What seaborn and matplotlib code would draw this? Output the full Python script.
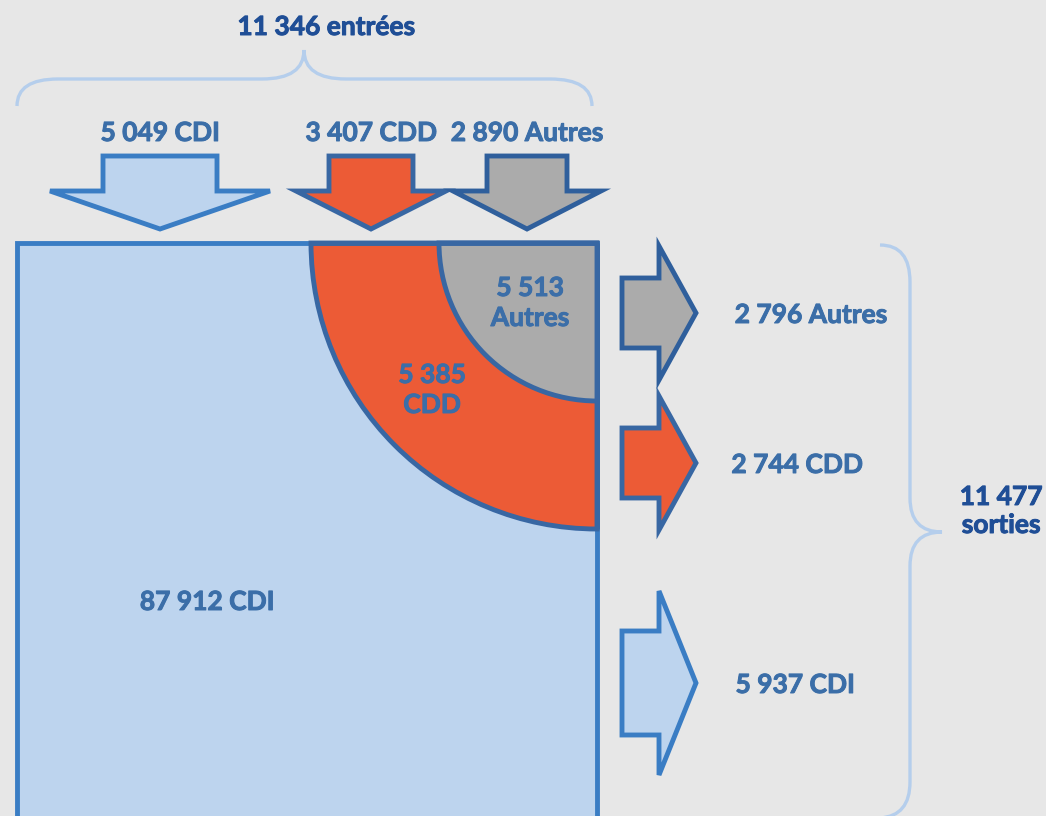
import seaborn as sns
import matplotlib.pyplot as plt
import matplotlib.patheffects as pe
from matplotlib.patches import Polygon, Rectangle, Wedge, PathPatch
from matplotlib.path import Path

# données
entrees_types = ["CDI", "CDD", "Autres"]
entrees_vals = [5049, 3407, 2890]
stock_types = ["CDI", "CDD", "Autres"]
stock_vals = [87912, 5385, 5513]
sorties_types = ["Autres", "CDD", "CDI"]
sorties_vals = [2796, 2744, 5937]

sns.set_theme(style="white")
plt.rcParams["font.family"] = ["Lato", "DejaVu Sans"]

BG = "#E7E7E7"
BLEU_CLAIR = "#BDD4EE"
ORANGE = "#EC5B36"
GRIS = "#ABABAB"
BORD_CDI = "#3A7DC4"
BORD = "#3867A3"
TXT = "#3B6EA8"
TXT_FONCE = "#1F4E96"
ACCOLADE = "#B5CEEC"
fills = {"CDI": BLEU_CLAIR, "CDD": ORANGE, "Autres": GRIS}
edges = {"CDI": BORD_CDI, "CDD": BORD, "Autres": "#2F5F9C"}
FS = 19


def fmt(v):
    return f"{v:,}".replace(",", " ")


fig = plt.figure(figsize=(10.46, 8.16), dpi=100)
fig.patch.set_facecolor(BG)
ax = fig.add_axes([0, 0, 1, 1])
ax.set_facecolor(BG)
ax.set_xlim(0, 1046)
ax.set_ylim(816, 0)
ax.axis("off")

lw = 3.5


def texte(x, y, s, color, **kw):
    ax.text(x, y, s, ha="center", va="center", fontsize=FS, fontweight="bold",
            color=color, path_effects=[pe.withStroke(linewidth=0.7, foreground=color)], **kw)


def fleche_bas(cx, sh, hh, top, neck, tip, t):
    pts = [(cx - sh, top), (cx + sh, top), (cx + sh, neck), (cx + hh, neck),
           (cx, tip), (cx - hh, neck), (cx - sh, neck)]
    ax.add_patch(Polygon(pts, closed=True, facecolor=fills[t], edgecolor=edges[t],
                         lw=lw, joinstyle="miter"))


def fleche_droite(left, neck, tip, cy, sh, hh, t):
    pts = [(left, cy - sh), (neck, cy - sh), (neck, cy - hh), (tip, cy),
           (neck, cy + hh), (neck, cy + sh), (left, cy + sh)]
    ax.add_patch(Polygon(pts, closed=True, facecolor=fills[t], edgecolor=edges[t],
                         lw=lw, joinstyle="miter"))


# entrées
top_arrows = {"CDI": (160, 57, 110), "CDD": (371, 42, 75), "Autres": (527, 40, 74)}
for t, v in zip(entrees_types, entrees_vals):
    cx, sh, hh = top_arrows[t]
    fleche_bas(cx, sh, hh, 156, 191, 229, t)
    texte(cx, 133, f"{fmt(v)} {t}", TXT)

texte(326, 27, f"{fmt(sum(entrees_vals))} entrées", TXT_FONCE)

# accolade du haut
C3, L, M = Path.CURVE3, Path.LINETO, Path.MOVETO
verts = [(17, 106), (17, 79), (58, 79), (262, 79), (304, 79), (304, 50),
         (304, 79), (346, 79), (550, 79), (592, 79), (592, 106)]
codes = [M, C3, C3, L, C3, C3, C3, C3, L, C3, C3]
ax.add_patch(PathPatch(Path(verts, codes), fill=False, edgecolor=ACCOLADE, lw=2.4))

# stock
ax.add_patch(Rectangle((17, 243), 580, 620, facecolor=BLEU_CLAIR, edgecolor=BORD_CDI, lw=lw))
ax.add_patch(Wedge((597, 243), 286, 90, 180, facecolor=ORANGE, edgecolor=BORD, lw=lw))
ax.add_patch(Wedge((597, 243), 158, 90, 180, facecolor=GRIS, edgecolor=BORD, lw=lw))
ax.plot([597, 597], [243, 529], color=BORD, lw=lw, solid_capstyle="butt")
ax.plot([312, 597], [243, 243], color=BORD, lw=lw, solid_capstyle="butt")

stock_pos = {"CDI": (207, 602), "CDD": (432, 390), "Autres": (530, 303)}
for t, v in zip(stock_types, stock_vals):
    x, y = stock_pos[t]
    lab = f"{fmt(v)} {t}" if t == "CDI" else f"{fmt(v)}\n{t}"
    texte(x, y, lab, TXT, linespacing=1.3)

# sorties
right_arrows = {"Autres": (313, 35, 67), "CDD": (463, 35, 67), "CDI": (683, 52, 92)}
label_x = {"Autres": 811, "CDD": 797, "CDI": 795}
for t, v in zip(sorties_types, sorties_vals):
    cy, sh, hh = right_arrows[t]
    fleche_droite(622, 659, 696, cy, sh, hh, t)
    texte(label_x[t], cy + 2, f"{fmt(v)} {t}", TXT)

# accolade de droite
verts = [(880, 245), (910, 245), (910, 282), (910, 498), (910, 532), (942, 532),
         (910, 532), (910, 566), (910, 782), (910, 816), (880, 818)]
ax.add_patch(PathPatch(Path(verts, codes), fill=False, edgecolor=ACCOLADE, lw=2.4))

texte(1001, 511, f"{fmt(sum(sorties_vals))}\nsorties", TXT_FONCE, linespacing=1.2)

fig.savefig("out.png", dpi=100, facecolor=BG)
